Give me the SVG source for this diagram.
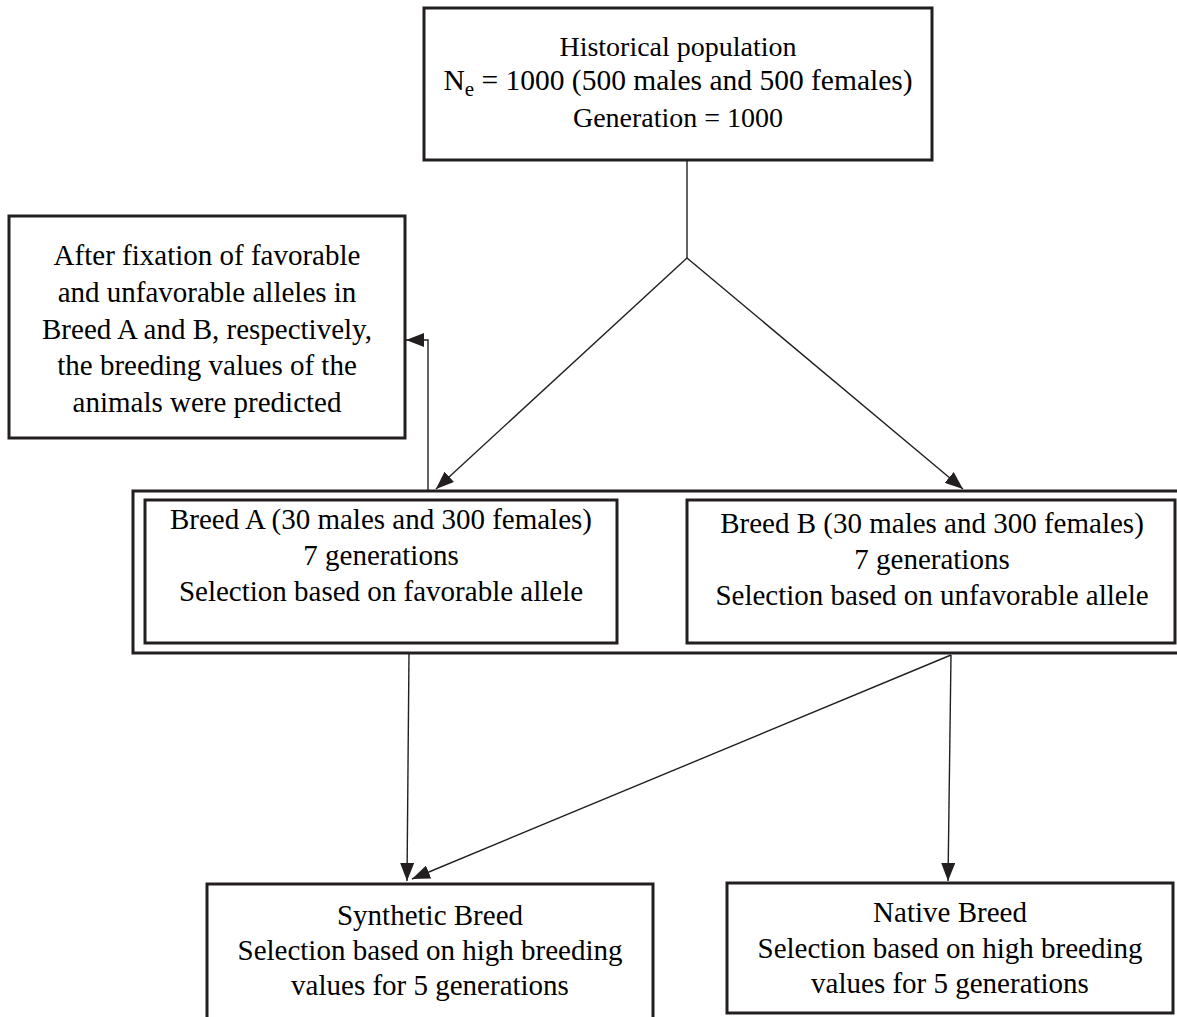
<svg xmlns="http://www.w3.org/2000/svg" width="1177" height="1017" viewBox="0 0 1177 1017">
<style>
  .box { fill: #ffffff; stroke: #231f20; stroke-width: 3; }
  .t { font-family: "Liberation Serif", "Times New Roman", serif; font-size: 29px; fill: #000000; text-anchor: middle; }
  .c { fill: none; stroke: #231f20; stroke-width: 1.4; }
</style>
<defs>
  <marker id="ah" viewBox="0 0 18 14" refX="18" refY="7" markerWidth="18" markerHeight="14" orient="auto" markerUnits="userSpaceOnUse">
    <path d="M0,0 L18,7 L0,14 z" fill="#231f20"/>
  </marker>
</defs>
<rect width="1177" height="1017" fill="#ffffff"/>

<g id="historical">
  <rect class="box" x="424" y="8" width="508" height="152"/>
  <text class="t" x="678" y="56" style="font-size:28px">Historical population</text>
  <text class="t" x="678" y="90" style="font-size:29.5px">N<tspan dy="6" style="font-size:21px">e</tspan><tspan dy="-6"> = 1000 (500 males and 500 females)</tspan></text>
  <text class="t" x="678" y="127" style="font-size:28px">Generation = 1000</text>
</g>

<g id="note">
  <rect class="box" x="9" y="216" width="396" height="222"/>
  <text class="t" x="207" y="265">After fixation of favorable</text>
  <text class="t" x="207" y="302">and unfavorable alleles in</text>
  <text class="t" x="207" y="339">Breed A and B, respectively,</text>
  <text class="t" x="207" y="375">the breeding values of the</text>
  <text class="t" x="207" y="412">animals were predicted</text>
</g>

<g id="breeds">
  <rect class="box" x="133" y="491" width="1060" height="162"/>
  <g id="breedA">
    <rect class="box" x="145" y="500" width="472" height="143"/>
    <text class="t" x="381" y="529">Breed A (30 males and 300 females)</text>
    <text class="t" x="381" y="565">7 generations</text>
    <text class="t" x="381" y="601">Selection based on favorable allele</text>
  </g>
  <g id="breedB">
    <rect class="box" x="687" y="500" width="488" height="143"/>
    <text class="t" x="932" y="533">Breed B (30 males and 300 females)</text>
    <text class="t" x="932" y="569">7 generations</text>
    <text class="t" x="932" y="605">Selection based on unfavorable allele</text>
  </g>
</g>

<g id="synthetic">
  <rect class="box" x="207" y="884" width="446" height="150"/>
  <text class="t" x="430" y="925">Synthetic Breed</text>
  <text class="t" x="430" y="960">Selection based on high breeding</text>
  <text class="t" x="430" y="995">values for 5 generations</text>
</g>

<g id="native">
  <rect class="box" x="727" y="883" width="446" height="130"/>
  <text class="t" x="950" y="922">Native Breed</text>
  <text class="t" x="950" y="958">Selection based on high breeding</text>
  <text class="t" x="950" y="993">values for 5 generations</text>
</g>

<g id="connectors">
  <line class="c" x1="687" y1="160" x2="687" y2="258"/>
  <line class="c" x1="687" y1="258" x2="436" y2="489" marker-end="url(#ah)"/>
  <line class="c" x1="687" y1="258" x2="963" y2="489" marker-end="url(#ah)"/>
  <polyline class="c" points="428,490 428,340 406,340" marker-end="url(#ah)"/>
  <line class="c" x1="409" y1="653" x2="407" y2="881" marker-end="url(#ah)"/>
  <line class="c" x1="951" y1="655" x2="412" y2="879" marker-end="url(#ah)"/>
  <line class="c" x1="951" y1="655" x2="948" y2="881" marker-end="url(#ah)"/>
</g>
</svg>
